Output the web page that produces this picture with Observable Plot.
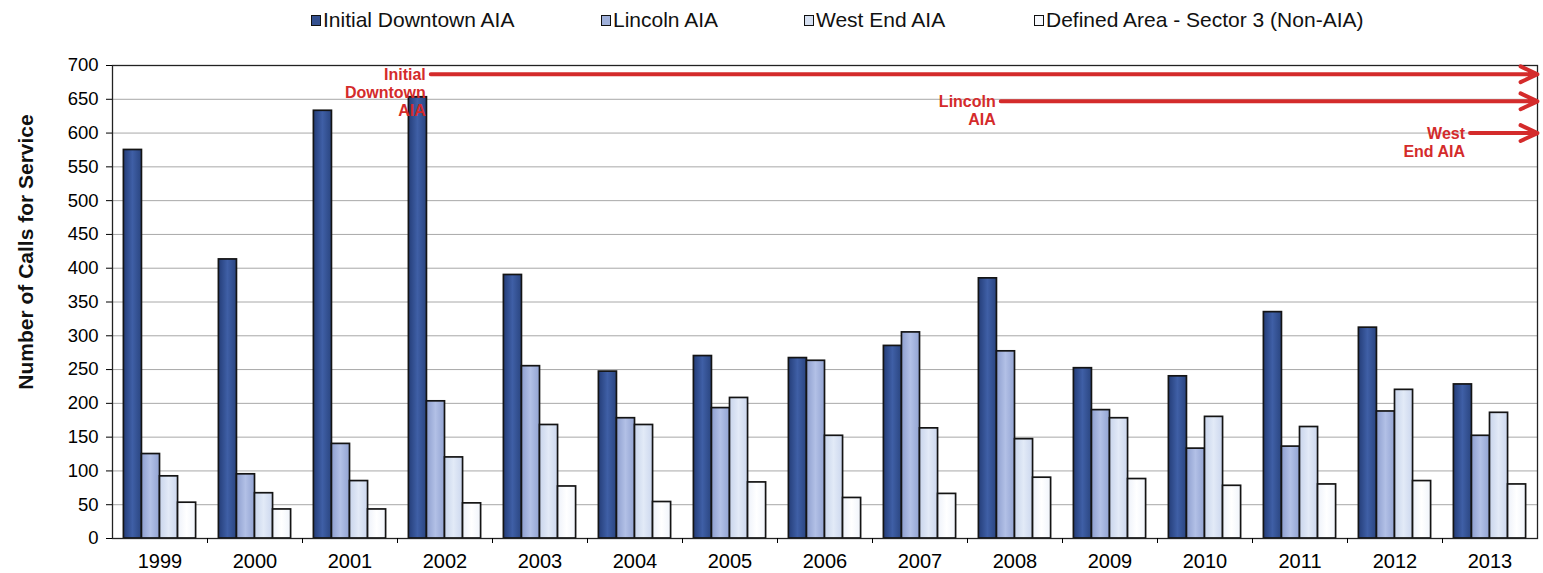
<!DOCTYPE html>
<html>
<head>
<meta charset="utf-8">
<script src="https://cdn.jsdelivr.net/npm/d3@7"></script>
<script src="https://cdn.jsdelivr.net/npm/@observablehq/plot@0.6"></script>
<style>
  body { margin: 0; background: #fff; font-family: "Liberation Sans", Arial, sans-serif; }
  #wrap { position: relative; width: 1543px; height: 573px; overflow: hidden; }
  #legend { position: absolute; top: 0; left: 0; width: 1543px; height: 40px; }
  .li { position: absolute; top: 7px; font-size: 21px; line-height: 26px; color: #111; display: flex; align-items: center; white-space: nowrap; }
  .sw { width: 8px; height: 9px; border: 1.6px solid #111; margin-right: 2px; }
  #chart { position: absolute; top: 40px; left: 0; }
</style>
</head>
<body>
<div id="wrap">
  <div id="legend"></div>
  <div id="chart"></div>
</div>
<script>
const years = [1999, 2000, 2001, 2002, 2003, 2004, 2005, 2006, 2007, 2008, 2009, 2010, 2011, 2012, 2013];
const seriesNames = ["Initial Downtown AIA", "Lincoln AIA", "West End AIA", "Defined Area - Sector 3 (Non-AIA)"];
const initialDowntown = [575, 413, 633, 653, 390, 247, 270, 267, 285, 385, 252, 240, 335, 312, 228];
const lincoln         = [125,  95, 140, 203, 255, 178, 193, 263, 305, 277, 190, 133, 136, 188, 152];
const westEnd         = [ 92,  67,  85, 120, 168, 168, 208, 152, 163, 147, 178, 180, 165, 220, 186];
const definedArea     = [ 53,  43,  43,  52,  77,  54,  83,  60,  66,  90,  88,  78,  80,  85,  80];
const yTicks = [0, 50, 100, 150, 200, 250, 300, 350, 400, 450, 500, 550, 600, 650, 700];
const yLabel = "Number of Calls for Service";
// AIA start annotations: label, starting year position, level on the value axis
const annLabels = ["Initial\nDowntown\nAIA", "Lincoln\nAIA", "West\nEnd AIA"];
const annStart = [2001.85, 2007.85, 2012.79];
const annLevel = [687, 647, 600];

const seriesValues = [initialDowntown, lincoln, westEnd, definedArea];
const fills = ["url(#g0)", "url(#g1)", "url(#g2)", "url(#g3)"];
const swatch = ["#34508f", "#9fb0da", "#d6e0f1", "#f7f9fd"];
const legendX = [311, 601, 804, 1034];

const legend = document.getElementById("legend");
seriesNames.forEach((n, i) => {
  const d = document.createElement("div");
  d.className = "li";
  d.style.left = legendX[i] + "px";
  d.innerHTML = `<span class="sw" style="background:${swatch[i]}"></span><span>${n}</span>`;
  legend.appendChild(d);
});

const rows = [];
seriesValues.forEach((vals, i) => {
  vals.forEach((v, j) => rows.push({year: years[j], i, series: seriesNames[i], value: v}));
});
const ann = annLabels.map((l, k) => ({label: l, start: annStart[k], level: annLevel[k], end: years[years.length - 1] + 0.5}));

const pad = 0.12, bw = 0.19;
const boundaries = years.slice(0, -1).map(y => y + 0.5);

const plot = Plot.plot({
  width: 1543,
  height: 533,
  marginLeft: 112,
  marginRight: 6,
  marginTop: 25,
  marginBottom: 35,
  style: {fontFamily: "'Liberation Sans', Arial, sans-serif", background: "transparent"},
  x: {domain: [years[0] - 0.5, years[years.length - 1] + 0.5], axis: null},
  y: {domain: [0, 700], axis: null},
  marks: [
    Plot.ruleY(yTicks.filter(d => d > 0 && d < 700), {stroke: "#a8a8a8", strokeWidth: 1}),
    ...seriesNames.map((s, i) => Plot.rectY(rows.filter(r => r.i === i), {
      x1: r => r.year - 0.5 + pad + r.i * bw,
      x2: r => r.year - 0.5 + pad + (r.i + 1) * bw,
      y1: 0,
      y2: "value",
      fill: fills[i],
      stroke: "#141414",
      strokeWidth: 1.7
    })),
    Plot.frame({stroke: "#222", strokeWidth: 1.3}),
    Plot.axisY({ticks: yTicks, tickSize: 6, tickPadding: 8, fontSize: 18.5, tickFormat: d => d, label: null}),
    Plot.axisX({ticks: boundaries, tickSize: 5, tickFormat: () => "", label: null}),
    Plot.axisX({ticks: years, tickSize: 0, tickPadding: 15, fontSize: 20, tickFormat: d => String(d), label: null}),
    Plot.text([yLabel], {frameAnchor: "left", textAnchor: "middle", dx: -86, dy: -50, rotate: -90, text: d => d, fontSize: 21, fontWeight: "bold", fill: "#111"}),
    Plot.arrow(ann, {x1: "start", x2: "end", y1: "level", y2: "level", stroke: "#d42b2b", strokeWidth: 4, headLength: 7, headAngle: 50}),
    Plot.text(ann, {x: "start", y: "level", text: "label", textAnchor: "end", lineAnchor: "top", dx: -5, dy: -7, fontSize: 16, fontWeight: "bold", fill: "#d42b2b", lineHeight: 1.12})
  ]
});

// gradient defs for the bars
const ns = "http://www.w3.org/2000/svg";
const defs = document.createElementNS(ns, "defs");
const grads = [
  ["#243d78", "#3f5fa6", "#2a4580"],
  ["#8e9fcf", "#b2c0e6", "#92a3d2"],
  ["#c9d5ec", "#e2eaf7", "#ccd7ee"],
  ["#eef2fa", "#ffffff", "#f0f4fb"]
];
grads.forEach((g, k) => {
  const lg = document.createElementNS(ns, "linearGradient");
  lg.setAttribute("id", "g" + k);
  lg.setAttribute("x1", "0"); lg.setAttribute("x2", "1"); lg.setAttribute("y1", "0"); lg.setAttribute("y2", "0");
  [[0, g[0]], [0.5, g[1]], [1, g[2]]].forEach(([o, c]) => {
    const st = document.createElementNS(ns, "stop");
    st.setAttribute("offset", o);
    st.setAttribute("stop-color", c);
    lg.appendChild(st);
  });
  defs.appendChild(lg);
});
plot.insertBefore(defs, plot.firstChild);
document.getElementById("chart").appendChild(plot);
</script>
</body>
</html>
